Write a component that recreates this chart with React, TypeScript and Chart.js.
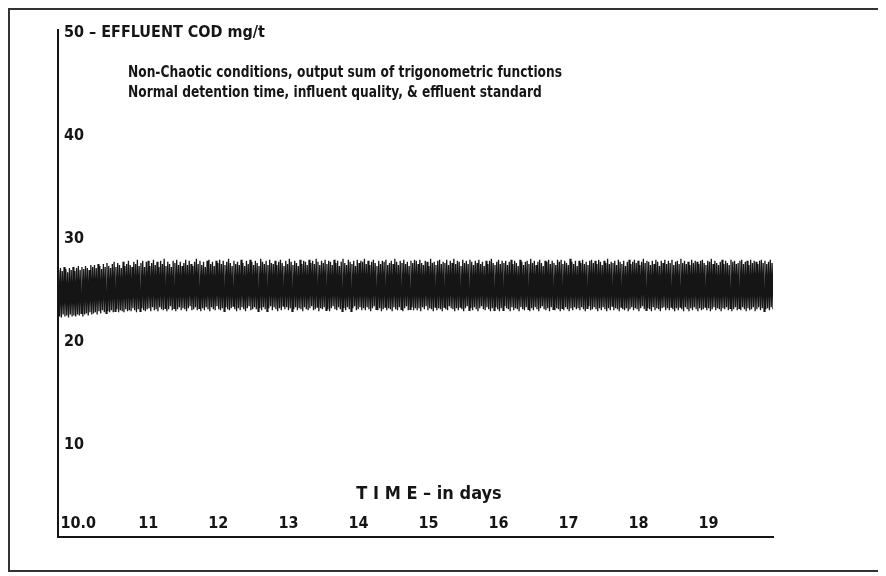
import React, { useEffect, useRef } from "react";
import { Chart, registerables } from "chart.js";

Chart.register(...registerables);

const FONT = '"Liberation Sans Narrow", "DejaVu Sans Condensed", "Arial Narrow", sans-serif';
const INK = "#151515";

// ---- data ----
const Y_TICKS = [10, 20, 30, 40, 50];
const X_TICKS = [10, 11, 12, 13, 14, 15, 16, 17, 18, 19];
const Y_AXIS_LABEL = "EFFLUENT COD mg/t";
const X_AXIS_LABEL = "T I M E – in days";
const NOTES = [
  "Non-Chaotic conditions, output sum of trigonometric functions",
  "Normal detention time, influent quality, & effluent standard",
];
const TIME_START = 9.72; // days
const TIME_END = 19.92; // days
// effluent COD samples (alternating crests / troughs), mg/l
const COD = [
  27.0,22.5, 27.2,22.4, 26.9,22.7, 27.3,22.5, 27.1,22.6, 26.8,22.4, 27.2,22.7, 27.0,22.5, 27.3,22.6, 26.9,22.5,
  27.2,22.7, 27.4,22.6, 27.0,22.8, 27.3,22.5, 27.1,22.7, 27.4,22.8, 27.2,22.6, 27.0,22.9, 27.5,22.7, 27.3,22.8,
  27.5,22.9, 27.2,22.7, 27.6,23.0, 27.4,22.8, 27.1,23.1, 27.6,22.9, 27.3,22.8, 27.7,23.0, 27.4,22.9, 27.2,23.1,
  27.6,22.9, 27.8,23.0, 27.3,23.2, 27.7,22.9, 27.5,23.1, 27.2,23.0, 27.8,22.9, 27.4,23.2, 27.6,23.0, 27.9,23.1,
  27.5,23.0, 27.3,23.3, 27.8,23.1, 27.6,22.9, 28.0,23.2, 27.4,23.0, 27.7,23.3, 27.9,23.1, 27.3,23.0, 27.8,23.2,
  27.9,23.3, 27.4,23.0, 27.7,23.4, 28.0,23.1, 27.5,23.2, 27.8,23.0, 27.3,23.4, 27.9,23.2, 27.6,23.1, 28.1,23.3,
  27.4,23.0, 27.8,23.2, 27.6,23.5, 27.3,23.1, 27.9,23.3, 27.7,23.0, 28.0,23.2, 27.5,23.4, 27.8,23.1, 27.4,23.3,
  27.7,23.2, 28.0,23.0, 27.5,23.3, 27.9,23.5, 27.6,23.1, 27.4,23.2, 27.8,23.4, 28.1,23.1, 27.6,23.3, 27.9,23.0,
  27.5,23.3, 27.8,23.1, 27.3,23.4, 27.9,23.2, 28.0,23.0, 27.6,23.4, 27.8,23.2, 27.4,23.1, 27.9,23.5, 27.7,23.2,
  28.0,23.1, 27.6,23.3, 27.9,23.0, 27.5,23.4, 27.8,23.2, 28.1,23.1, 27.7,23.3, 27.4,23.5, 27.9,23.2, 27.6,23.0,
  27.8,23.3, 27.5,23.1, 28.0,23.4, 27.7,23.2, 27.4,23.0, 27.9,23.3, 27.6,23.5, 28.0,23.1, 27.8,23.2, 27.5,23.4,
  27.9,23.2, 27.7,23.0, 27.4,23.3, 28.1,23.1, 27.8,23.4, 27.6,23.2, 27.9,23.0, 27.5,23.3, 28.0,23.5, 27.7,23.1,
  27.6,23.4, 27.9,23.2, 27.5,23.0, 27.8,23.3, 28.0,23.1, 27.7,23.5, 27.4,23.2, 27.9,23.4, 27.6,23.1, 28.1,23.3,
  27.8,23.0, 27.5,23.2, 27.9,23.4, 27.7,23.1, 27.4,23.3, 28.0,23.2, 27.6,23.0, 27.9,23.4, 27.8,23.2, 27.5,23.1,
  28.0,23.3, 27.7,23.5, 27.9,23.1, 27.6,23.2, 28.1,23.4, 27.8,23.0, 27.5,23.3, 27.9,23.2, 27.7,23.4, 28.0,23.1,
  27.6,23.2, 27.9,23.0, 27.8,23.3, 27.5,23.5, 28.0,23.2, 27.7,23.1, 27.9,23.4, 27.4,23.2, 27.8,23.0, 28.1,23.3,
  27.7,23.1, 27.5,23.4, 28.0,23.2, 27.8,23.0, 27.6,23.3, 27.9,23.5, 27.4,23.1, 28.0,23.2, 27.7,23.4, 27.9,23.1,
  27.8,23.3, 28.1,23.1, 27.6,23.4, 27.9,23.2, 27.5,23.0, 27.8,23.3, 28.0,23.5, 27.7,23.2, 27.4,23.1, 27.9,23.3,
  27.6,23.0, 27.9,23.2, 27.8,23.4, 28.0,23.1, 27.5,23.3, 27.7,23.2, 27.9,23.0, 27.6,23.4, 28.1,23.2, 27.8,23.1,
  27.5,23.4, 27.9,23.2, 27.7,23.0, 28.0,23.3, 27.6,23.5, 27.8,23.1, 27.4,23.2, 27.9,23.4, 27.7,23.1, 28.0,23.3,
  27.9,23.1, 27.6,23.3, 28.0,23.0, 27.7,23.4, 27.5,23.2, 27.9,23.5, 27.8,23.1, 27.4,23.3, 28.1,23.2, 27.7,23.0,
  27.8,23.4, 27.5,23.1, 27.9,23.3, 28.0,23.2, 27.6,23.0, 27.8,23.4, 27.7,23.2, 28.0,23.1, 27.5,23.5, 27.9,23.3,
  27.7,23.2, 28.1,23.0, 27.6,23.3, 27.9,23.1, 27.8,23.4, 27.4,23.2, 28.0,23.0, 27.7,23.3, 27.9,23.5, 27.6,23.1,
  28.0,23.3, 27.8,23.1, 27.5,23.4, 27.9,23.2, 27.7,23.0, 28.0,23.3, 27.6,23.5, 27.8,23.2, 27.4,23.1, 27.9,23.4,
  27.6,23.2, 27.9,23.0, 28.1,23.3, 27.7,23.1, 27.5,23.4, 27.8,23.2, 28.0,23.0, 27.6,23.3, 27.9,23.1, 27.7,23.5,
  27.9,23.3, 27.5,23.2, 27.8,23.0, 28.0,23.4, 27.6,23.1, 27.9,23.3, 27.7,23.2, 27.4,23.0, 28.0,23.4, 27.8,23.2,
  27.5,23.1, 27.8,23.4, 27.9,23.2, 27.6,23.0, 28.1,23.3, 27.7,23.1, 27.9,23.4, 27.5,23.2, 27.8,23.0, 28.0,23.3,
  27.7,23.5, 27.4,23.2, 27.9,23.1, 27.8,23.3, 28.0,23.0, 27.6,23.4, 27.9,23.2, 27.7,23.1, 27.5,23.3, 28.0,23.2,
  27.8,23.0, 28.0,23.3, 27.6,23.1, 27.9,23.4, 27.7,23.2, 27.5,23.0, 28.1,23.3, 27.8,23.1, 27.6,23.4, 27.9,23.2,
  27.4,23.3, 27.9,23.1, 27.7,23.4, 28.0,23.2, 27.6,23.0, 27.8,23.3, 27.5,23.5, 27.9,23.1, 28.0,23.2, 27.7,23.4,
  27.9,23.2, 27.6,23.0, 28.0,23.3, 27.8,23.1, 27.5,23.4, 27.9,23.2, 27.7,23.0, 28.1,23.3, 27.6,23.1, 27.8,23.5,
  27.7,23.1, 27.9,23.3, 27.5,23.2, 28.0,23.0, 27.8,23.4, 27.6,23.2, 27.9,23.1, 27.4,23.3, 27.8,23.0, 28.0,23.2,
  27.6,23.4, 27.8,23.1, 28.0,23.3, 27.7,23.2, 27.9,23.0, 27.5,23.3, 27.8,23.5, 28.1,23.2, 27.7,23.1, 27.9,23.3,
  27.8,23.2, 27.5,23.0, 27.9,23.4, 27.6,23.1, 28.0,23.3, 27.8,23.2, 27.4,23.0, 27.9,23.3, 27.7,23.4, 28.0,23.1,
  27.6,23.3, 27.9,23.1, 27.7,23.4, 28.0,23.2, 27.5,23.0, 27.8,23.3, 27.9,23.1, 27.6,23.4, 28.1,23.2, 27.7,23.0,
  27.9,23.4, 27.6,23.2, 27.8,23.0, 27.5,23.3, 28.0,23.1, 27.7,23.4, 27.9,23.2, 27.8,23.0, 27.6,23.3, 27.9,23.1,
  28.0,23.2, 27.7,23.4, 27.5,23.1, 27.9,23.3, 27.8,23.0, 28.1,23.2, 27.6,23.4, 27.9,23.1, 27.7,23.3, 27.5,23.2,
  27.8,23.0, 28.0,23.3, 27.6,23.2, 27.9,23.4, 27.7,23.1, 27.5,23.3, 28.0,23.0, 27.8,23.2, 27.9,23.4, 27.6,23.1,
  27.7,23.3, 27.9,23.1, 28.0,23.4, 27.6,23.2, 27.8,23.0, 27.9,23.3, 27.5,23.1, 28.0,23.2, 27.7,23.4, 27.9,23.0,
  27.8,23.2, 27.6,23.4, 27.9,23.1, 28.0,23.3, 27.7,23.0, 27.9,23.2, 27.6,23.3, 27.8,23.1, 28.0,23.4, 27.7,23.2,
];

const textPlugin = {
  id: "notesText",
  afterDraw(chart: any) {
    const { ctx, chartArea } = chart;
    ctx.save();
    ctx.fillStyle = INK;
    ctx.textBaseline = "middle";
    ctx.textAlign = "left";
    ctx.font = `bold 16px ${FONT}`;
    NOTES.forEach((t, i) => {
      ctx.save();
      ctx.translate(chartArea.left + 70, chartArea.top + 43 + i * 20);
      ctx.scale(0.85, 1);
      ctx.fillText(t, 0, 0);
      ctx.restore();
    });
    ctx.font = `bold 18px ${FONT}`;
    ctx.textAlign = "center";
    ctx.fillText(X_AXIS_LABEL, chartArea.left + 371, chartArea.bottom - 43);
    ctx.restore();
  },
};

export default function App() {
  const ref = useRef<HTMLCanvasElement>(null);
  useEffect(() => {
    if (!ref.current) return;
    const step = (TIME_END - TIME_START) / (COD.length - 1);
    const points = COD.map((v, i) => ({ x: TIME_START + i * step, y: v }));
    const chart = new Chart(ref.current, {
      type: "line",
      data: {
        datasets: [
          {
            data: points,
            borderColor: INK,
            borderWidth: 1.3,
            pointRadius: 0,
            tension: 0,
            fill: false,
          },
        ],
      },
      options: {
        animation: false,
        responsive: true,
        maintainAspectRatio: false,
        layout: { padding: { left: 48, top: 20, right: 105, bottom: 33 } },
        plugins: { legend: { display: false }, tooltip: { enabled: false } },
        scales: {
          x: {
            type: "linear",
            min: 9.71,
            max: 19.92,
            grid: { display: false, drawTicks: false },
            border: { display: true, color: INK, width: 2 },
            afterBuildTicks: (s: any) => {
              s.ticks = X_TICKS.map((v) => ({ value: v }));
            },
            afterFit: (s: any) => {
              s.height = 0;
            },
            ticks: {
              mirror: true,
              padding: 4,
              autoSkip: false,
              maxRotation: 0,
              color: INK,
              font: { family: FONT, size: 16, weight: "bold" },
              callback: (v: any) => (v === 10 ? "10.0" : String(v)),
            },
          },
          y: {
            min: 1.1,
            max: 50.3,
            grid: { display: false, drawTicks: false },
            border: { display: true, color: INK, width: 2 },
            afterBuildTicks: (s: any) => {
              s.ticks = Y_TICKS.map((v) => ({ value: v }));
            },
            afterFit: (s: any) => {
              s.width = 0;
            },
            ticks: {
              mirror: true,
              padding: 6,
              autoSkip: false,
              color: INK,
              font: { family: FONT, size: 16, weight: "bold" },
              callback: (v: any) => (v === 50 ? `50 – ${Y_AXIS_LABEL}` : String(v)),
            },
          },
        },
      },
      plugins: [textPlugin],
    });
    return () => chart.destroy();
  }, []);

  return (
    <div
      style={{
        width: 872,
        height: 564,
        border: "2px solid #333",
        boxSizing: "border-box",
        background: "#fff",
        position: "relative",
      }}
    >
      <div style={{ position: "relative", width: "100%", height: "100%" }}>
        <canvas ref={ref} />
      </div>
    </div>
  );
}
